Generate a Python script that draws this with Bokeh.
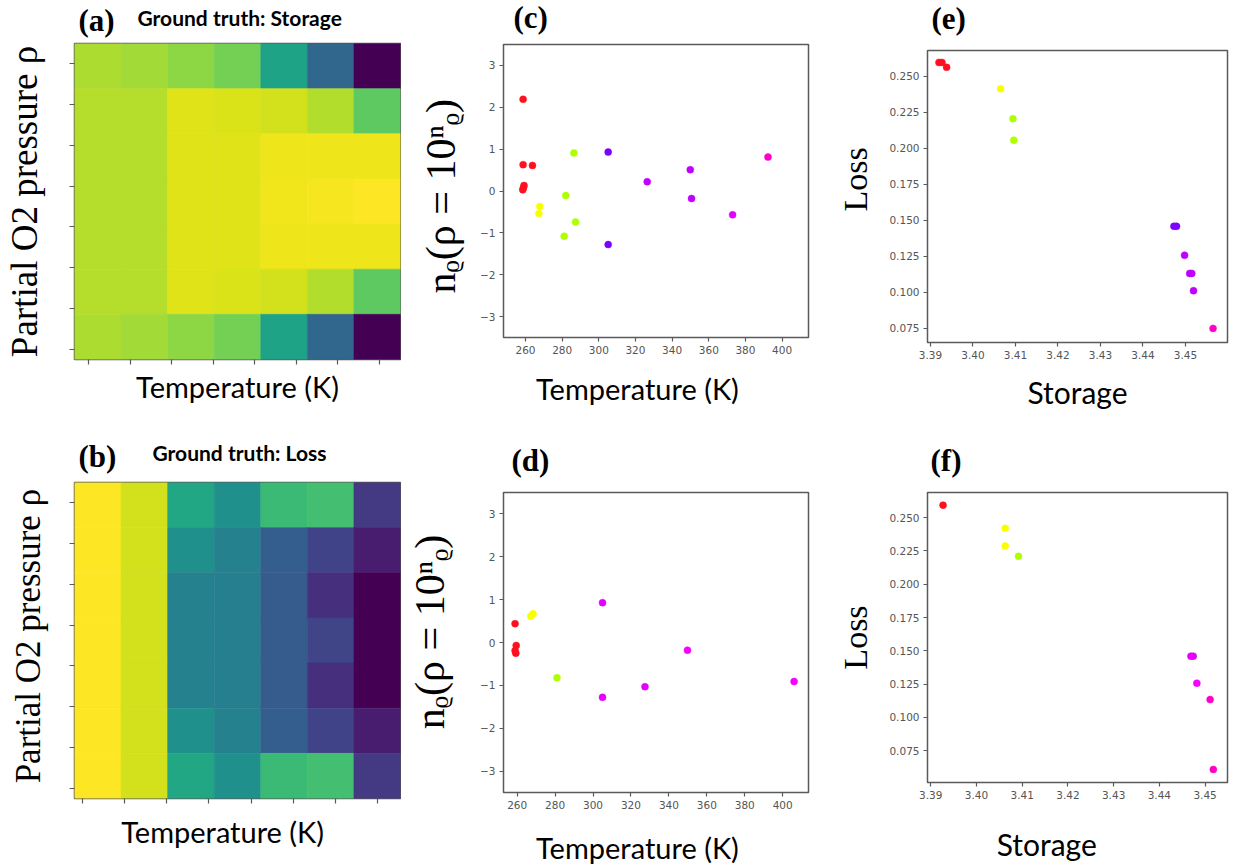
import numpy as np
from bokeh.plotting import figure
from bokeh.models import (ColumnDataSource, Range1d, FixedTicker,
                          LinearColorMapper, NumeralTickFormatter)
from bokeh.layouts import column, row
from bokeh.palettes import Viridis256
from bokeh.core.properties import value
from bokeh.embed import file_html
from bokeh.resources import INLINE

# ---------------- data ----------------
# Heatmaps (rows listed top -> bottom, columns left -> right), normalised 0..1
storage_rows = [
    [0.875, 0.86, 0.83, 0.79, 0.58, 0.33, 0.00],
    [0.889, 0.889, 0.95, 0.945, 0.93, 0.885, 0.75],
    [0.889, 0.889, 0.95, 0.95, 0.975, 0.975, 0.975],
    [0.889, 0.889, 0.95, 0.95, 0.98, 0.985, 1.00],
    [0.889, 0.889, 0.95, 0.95, 0.975, 0.975, 0.975],
    [0.889, 0.889, 0.95, 0.945, 0.93, 0.885, 0.75],
    [0.875, 0.86, 0.83, 0.79, 0.58, 0.33, 0.00],
]
loss_rows = [
    [1.00, 0.93, 0.60, 0.50, 0.68, 0.70, 0.17],
    [1.00, 0.93, 0.50, 0.44, 0.30, 0.20, 0.08],
    [1.00, 0.93, 0.44, 0.43, 0.29, 0.14, 0.00],
    [1.00, 0.93, 0.44, 0.43, 0.29, 0.21, 0.00],
    [1.00, 0.93, 0.44, 0.43, 0.29, 0.14, 0.00],
    [1.00, 0.93, 0.50, 0.44, 0.30, 0.20, 0.08],
    [1.00, 0.93, 0.60, 0.50, 0.68, 0.70, 0.17],
]

# (c) temperature vs n_rho
c_temp = [258.5, 258.9, 259.2, 258.7, 258.7, 263.8, 267.8, 267.3, 286.4, 282.0,
          287.3, 281.1, 305.1, 305.1, 326.4, 349.9, 350.6, 373.0, 392.3]
c_nrho = [0.03, 0.08, 0.13, 0.63, 2.19, 0.61, -0.37, -0.54, 0.91, -0.11,
          -0.74, -1.08, 0.93, -1.28, 0.22, 0.51, -0.18, -0.57, 0.81]
c_cluster = [0, 0, 0, 0, 0, 0, 1, 1, 2, 2, 2, 2, 3, 3, 4, 4, 4, 5, 6]

# (d) temperature vs n_rho
d_temp = [258.9, 259.5, 258.9, 259.3, 267.2, 268.4, 281.0, 305.0, 305.0, 327.4, 349.8, 406.0]
d_nrho = [0.44, -0.07, -0.19, -0.25, 0.61, 0.67, -0.82, 0.93, -1.28, -1.03, -0.18, -0.91]
d_cluster = [0, 0, 0, 0, 1, 1, 2, 5, 5, 5, 7, 7]

# (e) storage vs loss
e_storage = [3.3920, 3.3927, 3.3938, 3.4065, 3.4094, 3.4096, 3.4473, 3.4479,
             3.4498, 3.4510, 3.4515, 3.4519, 3.4565]
e_loss = [0.2597, 0.2597, 0.2563, 0.2414, 0.2206, 0.2057, 0.1459, 0.1459,
          0.1258, 0.1132, 0.1132, 0.1012, 0.0750]
e_cluster = [0, 0, 0, 1, 2, 2, 3, 3, 4, 4, 4, 4, 6]

# (f) storage vs loss
f_storage = [3.3927, 3.4063, 3.4063, 3.4092, 3.4469, 3.4474, 3.4482, 3.4511, 3.4518]
f_loss = [0.2593, 0.2420, 0.2287, 0.2209, 0.1460, 0.1460, 0.1257, 0.1134, 0.0610]
f_cluster = [0, 1, 1, 2, 5, 5, 7, 6, 6]

temp_ticks = [260, 280, 300, 320, 340, 360, 380, 400]
nrho_ticks = [-3, -2, -1, 0, 1, 2, 3]
storage_ticks = [3.39, 3.40, 3.41, 3.42, 3.43, 3.44, 3.45]
loss_ticks = [0.075, 0.100, 0.125, 0.150, 0.175, 0.200, 0.225, 0.250]

# ---------------- styles ----------------
cluster_palette = ["#ff1020", "#f8ff00", "#afff00", "#7d00ff",
                   "#c000ff", "#e200ff", "#ff00c8", "#f600ff"]
SERIF = "Liberation Serif"
SANS = "Lato"
TICKF = "DejaVu Sans"
GRAY = "#5a5a5a"
NB = "\u00a0"
mapper = LinearColorMapper(palette=Viridis256, low=0.0, high=1.0)


def panel(width, height, left, right, top, bottom, xr, yr):
    p = figure(width=width, height=height, x_range=Range1d(*xr), y_range=Range1d(*yr),
               min_border_left=left, min_border_right=right,
               min_border_top=top, min_border_bottom=bottom,
               output_backend="svg", toolbar_location=None, title=None)
    p.grid.visible = False
    p.outline_line_color = GRAY
    p.outline_line_width = 1.5
    p.outline_line_alpha = 1.0
    p.background_fill_color = "white"
    p.border_fill_color = "white"
    for ax in p.axis:
        ax.axis_line_color = None
        ax.major_tick_out = 4
        ax.major_tick_in = 0
        ax.minor_tick_line_color = None
        ax.major_tick_line_color = GRAY
        ax.major_tick_line_width = 1.2
        ax.major_label_text_font = TICKF
        ax.major_label_text_font_size = "10.5px"
        ax.major_label_text_color = "#555555"
        ax.major_label_standoff = 4
        ax.axis_label_text_font_style = "normal"
        ax.axis_label_text_color = "black"
    return p


def strip(page_x, page_y, width, height, left, right, items):
    """A text-only band; its coordinates are page pixels."""
    s = figure(width=width, height=height,
               x_range=Range1d(page_x + left, page_x + width - right),
               y_range=Range1d(page_y + height, page_y),
               min_border_left=left, min_border_right=right,
               min_border_top=0, min_border_bottom=0,
               x_axis_location=None, y_axis_location=None,
               output_backend="svg", toolbar_location=None, title=None)
    s.grid.visible = False
    s.outline_line_color = None
    s.background_fill_color = "white"
    s.border_fill_color = "white"
    for px, py, txt, font, size in items:
        s.text(x=[px], y=[py], text=[txt], text_font=value(font),
               text_font_size=value(f"{size}px"), text_font_style=value("bold"),
               text_baseline=value("alphabetic"), text_align=value("left"),
               text_color="black")
    return s


def heatmap(p, rows, xticks, yticks, xlabel, xstand, ylabel, ysize, ystand):
    xs, ys, vs = [], [], []
    n = len(rows)
    for r, vals in enumerate(rows):
        for c, v in enumerate(vals):
            xs.append(c + 0.5)
            ys.append(n - r - 0.5)
            vs.append(v)
    src = ColumnDataSource(dict(x=xs, y=ys, v=vs))
    p.rect(x="x", y="y", width=1, height=1, source=src,
           fill_color={"field": "v", "transform": mapper},
           line_color={"field": "v", "transform": mapper}, line_width=0.6)
    for ax in p.axis:
        ax.major_label_text_font_size = "0px"
        ax.major_label_text_color = None
        ax.major_label_standoff = 0
        ax.major_tick_out = 5
    p.xaxis.ticker = FixedTicker(ticks=xticks)
    p.yaxis.ticker = FixedTicker(ticks=yticks)
    p.xaxis.axis_label = xlabel
    p.xaxis.axis_label_text_font = SANS
    p.xaxis.axis_label_text_font_size = "29px"
    p.xaxis.axis_label_standoff = xstand
    p.yaxis.axis_label = ylabel
    p.yaxis.axis_label_text_font = SERIF
    p.yaxis.axis_label_text_font_size = f"{ysize}px"
    p.yaxis.axis_label_standoff = ystand


def scatter(p, xs, ys, clusters):
    src = ColumnDataSource(dict(x=xs, y=ys, c=[cluster_palette[k] for k in clusters]))
    p.scatter(x="x", y="y", source=src, size=7, fill_color="c", line_color="c",
              line_width=0.5)


def nrho_panel(p, xs, ys, cl, xlabel, xstand, ylabel, ystand):
    scatter(p, xs, ys, cl)
    p.xaxis.ticker = FixedTicker(ticks=temp_ticks)
    p.yaxis.ticker = FixedTicker(ticks=nrho_ticks)
    p.yaxis.major_label_overrides = {t: (f"\u2212{abs(t)}" if t < 0 else str(t)) for t in nrho_ticks}
    p.xaxis.axis_label = xlabel
    p.xaxis.axis_label_text_font = SANS
    p.xaxis.axis_label_text_font_size = "29px"
    p.xaxis.axis_label_standoff = xstand
    p.yaxis.axis_label = ylabel
    p.yaxis.axis_label_text_font = SERIF
    p.yaxis.axis_label_text_font_size = "42px"
    p.yaxis.axis_label_standoff = ystand


def loss_panel(p, xs, ys, cl, xlabel, xstand, ylabel, ystand):
    scatter(p, xs, ys, cl)
    p.xaxis.ticker = FixedTicker(ticks=storage_ticks)
    p.yaxis.ticker = FixedTicker(ticks=loss_ticks)
    p.xaxis.formatter = NumeralTickFormatter(format="0.00")
    p.yaxis.formatter = NumeralTickFormatter(format="0.000")
    p.xaxis.axis_label = xlabel
    p.xaxis.axis_label_text_font = SANS
    p.xaxis.axis_label_text_font_size = "30px"
    p.xaxis.axis_label_standoff = xstand
    p.yaxis.axis_label = ylabel
    p.yaxis.axis_label_text_font = SERIF
    p.yaxis.axis_label_text_font_size = "34px"
    p.yaxis.axis_label_standoff = ystand


YL_HEAT = "Partial O2 pressure ρ"
YL_NRHO = "nᵨ(ρ = 10ⁿᵨ)"

# ---------------- column 1: (a), (b) ----------------
W1, L1, R1 = 401, 74, 1
sa = strip(0, 0, W1, 42, L1, R1, [(78, 19.5, "(a)", SERIF, 31),
                                  (137, 17, "Ground truth: Storage", SANS, 21)])
pa = panel(W1, 393, L1, R1, 1, 76, (0, 7), (0, 7))
heatmap(pa, storage_rows, list(np.linspace(0.30, 6.55, 8)), list(np.linspace(0.22, 6.56, 8)),
        "Temperature (K)", 4, YL_HEAT, 37, 25)

sb = strip(0, 435, W1, 46, L1, R1, [(78, 456, "(b)", SERIF, 31),
                                    (152, 452, "Ground truth: Loss", SANS, 21)])
pb = panel(W1, 386, L1, R1, 1, 69, (0, 7), (0, 7))
heatmap(pb, loss_rows, list(np.linspace(0.17, 6.51, 8)), list(np.linspace(0.22, 6.56, 8)),
        "Temperature (K)" + NB * 4, 10, NB + YL_HEAT, 35, 22)

# ---------------- column 2: (c), (d) ----------------
X2, W2, L2, R2 = 401, 429, 102, 22
sc = strip(X2, 0, W2, 43, L2, R2, [(513, 17, "(c)", SERIF, 31)])
pc = panel(W2, 392, L2, R2, 1, 98, (248.0, 414.4), (-3.5, 3.5))
nrho_panel(pc, c_temp, c_nrho, c_cluster, "Temperature (K)" + NB * 5, 14, YL_NRHO + NB, 13)

sd = strip(X2, 435, W2, 56, L2, R2, [(511, 460, "(d)", SERIF, 31)])
pd_ = panel(W2, 376, L2, R2, 1, 75, (252.8, 413.6), (-3.5, 3.5))
nrho_panel(pd_, d_temp, d_nrho, d_cluster, "Temperature (K)" + NB * 5, 18,
           NB * 2 + YL_NRHO, 24)

# ---------------- column 3: (e), (f) ----------------
X3, W3, L3, R3 = 830, 408, 97, 11
se = strip(X3, 0, W3, 49, L3, R3, [(931, 18, "(e)", SERIF, 31)])
pe = panel(W3, 386, L3, R3, 1, 93, (3.3893, 3.4599), (0.0652, 0.268))
loss_panel(pe, e_storage, e_loss, e_cluster, "Storage", 12, NB * 4 + "Loss", 12)

sf = strip(X3, 435, W3, 56, L3, R3, [(930, 460, "(f)", SERIF, 31)])
pf = panel(W3, 376, L3, R3, 1, 85, (3.3893, 3.4549), (0.0512, 0.2688))
loss_panel(pf, f_storage, f_loss, f_cluster, "Storage" + NB * 8, 24, "Loss", 12)

layout = row(column(sa, pa, sb, pb), column(sc, pc, sd, pd_), column(se, pe, sf, pf))

open("out.html", "w").write(file_html(layout, INLINE))
